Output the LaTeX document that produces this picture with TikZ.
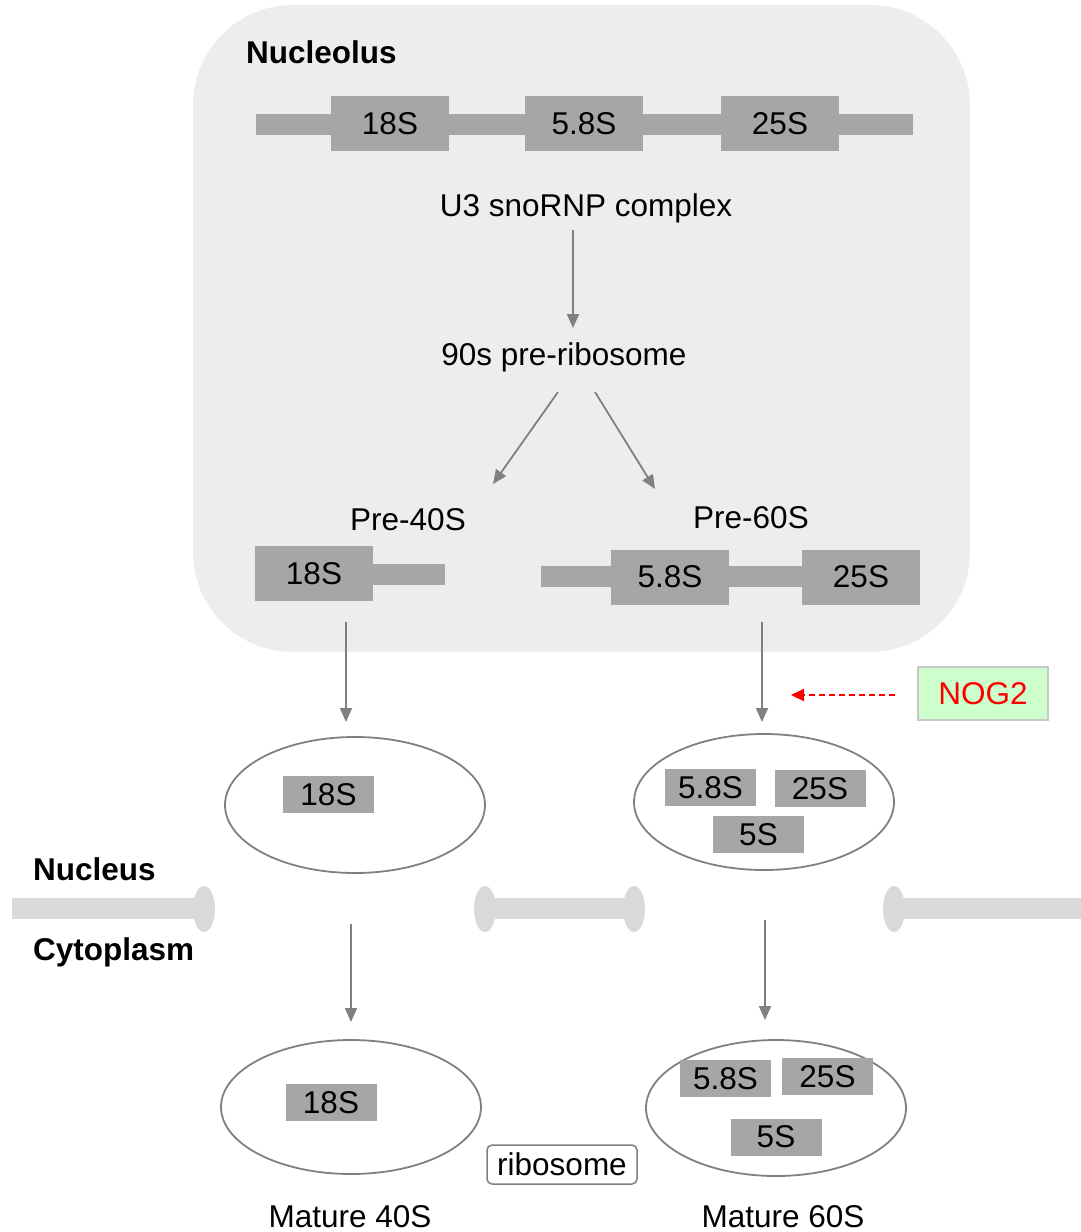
\documentclass[tikz,border=0pt]{standalone}
\usepackage{fontspec}
\setmainfont{Liberation Sans}
\usetikzlibrary{arrows.meta,shapes.geometric}
\definecolor{nucleolusbg}{HTML}{EDEDED}
\definecolor{rna}{HTML}{A6A6A6}
\definecolor{conn}{HTML}{808080}
\definecolor{memb}{HTML}{D9D9D9}
\definecolor{noggreen}{HTML}{CCFFCC}
\definecolor{nogborder}{HTML}{C8C8C8}
\tikzset{
  lbl/.style={inner sep=0pt, font=\fontsize{31.5}{36}\selectfont},
  bold/.style={inner sep=0pt, font=\fontsize{31.5}{36}\selectfont\bfseries},
  rnabig/.style={lbl, fill=rna, minimum width=118pt, minimum height=55pt},
  rnasmall/.style={lbl, fill=rna, minimum width=91pt, minimum height=37pt},
  subunit/.style={ellipse, draw=conn, line width=1.8pt, minimum width=260pt, minimum height=136pt, inner sep=0pt},
  arr/.style={draw=conn, line width=1.8pt, -{Triangle[length=14pt,width=12pt]}},
  inh/.style={draw=red, line width=2pt, dash pattern=on 6pt off 4pt, -{Triangle[length=13pt,width=12pt]}},
  membbar/.style={fill=memb},
}
\begin{document}
\begin{tikzpicture}[x=1pt,y=-1pt]
\useasboundingbox (0,0) rectangle (1081,1232);

% nucleolus compartment
\fill[nucleolusbg, rounded corners=100pt] (193,5) rectangle (970,652);
\node[bold, anchor=base west] (nucleolus) at (246,63) {Nucleolus};

% pre-rRNA transcript
\fill[rna] (256,114) rectangle (913,135);
\node[rnabig] (t18) at (390,123.5) {18S};
\node[rnabig] (t58) at (584,123.5) {5.8S};
\node[rnabig] (t25) at (780,123.5) {25S};

\node[lbl, anchor=base] (u3) at (586,216) {U3 snoRNP complex};
\node[lbl, anchor=base] (pre90) at (564,365) {90s pre-ribosome};
\node[lbl, anchor=base] (pre40lbl) at (408,530) {Pre-40S};
\node[lbl, anchor=base] (pre60lbl) at (751,528) {Pre-60S};

% pre-40S particle
\fill[rna] (373,564) rectangle (445,585);
\node[rnabig] (p40) at (314,573.5) {18S};

% pre-60S particle
\fill[rna] (541,566) rectangle (802,587);
\node[rnabig] (p58) at (670,577) {5.8S};
\node[rnabig] (p25) at (861,577) {25S};

% NOG2
\node[lbl, fill=noggreen, draw=nogborder, line width=1.5pt, text=red,
      minimum width=130pt, minimum height=53pt] (nog) at (983,693.5) {NOG2};

% nuclear subunits
\node[subunit] (n40) at (355,805) {};
\node[rnasmall] (n40a) at (328.5,794.5) {18S};
\node[subunit] (n60) at (764,802) {};
\node[rnasmall] (n60a) at (710.5,787.5) {5.8S};
\node[rnasmall] (n60b) at (820,788.5) {25S};
\node[rnasmall] (n60c) at (758.5,834.5) {5S};

% nuclear envelope with pores
\fill[membbar] (12,898) rectangle (204,919);
\fill[membbar] (204,909) ellipse [x radius=11, y radius=23];
\fill[membbar] (485,898) rectangle (634,919);
\fill[membbar] (485,909) ellipse [x radius=11, y radius=23];
\fill[membbar] (634,909) ellipse [x radius=11, y radius=23];
\fill[membbar] (894,898) rectangle (1081,919);
\fill[membbar] (894,909) ellipse [x radius=11, y radius=23];

\node[bold, anchor=base west] (nucleus) at (33,880) {Nucleus};
\node[bold, anchor=base west] (cyto) at (33,960) {Cytoplasm};

% mature subunits
\node[subunit, minimum height=134pt] (m40) at (351,1107) {};
\node[rnasmall] (m40a) at (331,1102.5) {18S};
\node[subunit] (m60) at (776,1108) {};
\node[rnasmall] (m60a) at (725.5,1078.5) {5.8S};
\node[rnasmall] (m60b) at (827.5,1076.5) {25S};
\node[rnasmall] (m60c) at (776,1137) {5S};

\node[lbl, draw=conn, line width=1.5pt, rounded corners=5pt, fill=white,
      minimum width=150pt, minimum height=39pt] (ribo) at (562,1164.5) {ribosome};
\node[lbl, anchor=base] (mat40) at (350,1227) {Mature 40S};
\node[lbl, anchor=base] (mat60) at (783,1227) {Mature 60S};

% connector ends
\coordinate (u3out) at (573,230);
\coordinate (pre90in) at (573,328);
\coordinate (pre90l) at (558,392);
\coordinate (pre40in) at (493,484);
\coordinate (pre90r) at (595,392);
\coordinate (pre60in) at (655,489);
\coordinate (p40out) at (346,622);
\coordinate (n40in) at (346,722);
\coordinate (p60out) at (762,622);
\coordinate (n60in) at (762,722);
\coordinate (n40out) at (351,924);
\coordinate (m40in) at (351,1022);
\coordinate (n60out) at (765,920);
\coordinate (m60in) at (765,1020);
\coordinate (nogtip) at (791,695);

% maturation pathway
\draw[arr] (u3out) -- (pre90in);
\draw[arr] (pre90l) -- (pre40in);
\draw[arr] (pre90r) -- (pre60in);
\draw[arr] (p40out) -- (n40in);
\draw[arr] (p60out) -- (n60in);
\draw[arr] (n40out) -- (m40in);
\draw[arr] (n60out) -- (m60in);
\draw[inh, shorten <=22pt] (nog.west |- nogtip) -- (nogtip);
\end{tikzpicture}
\end{document}
